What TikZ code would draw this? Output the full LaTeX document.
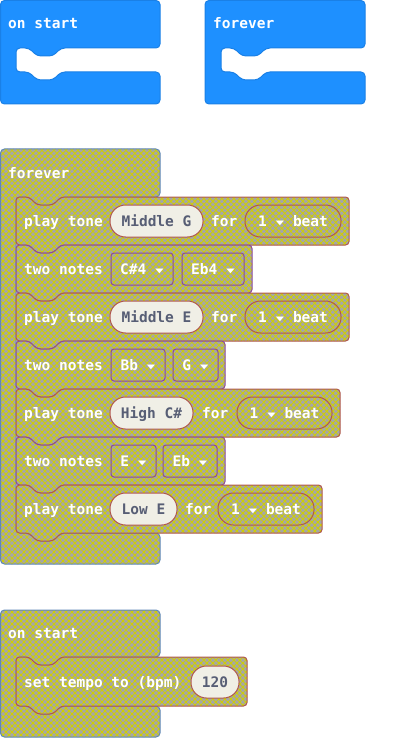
\documentclass[tikz,border=0pt]{standalone}
\usepackage{fontspec}
\usepackage{graphicx}
\newfontfamily\blockfont{DejaVu Sans Mono}
\usetikzlibrary{patterns.meta}

\definecolor{mbblue}{HTML}{1E90FF}
\definecolor{mbblueline}{HTML}{1A80E6}
\definecolor{hatchgray}{HTML}{A6A6A6}
\definecolor{hatchyellow}{HTML}{D0D000}
\definecolor{evline}{HTML}{5F88B8}
\definecolor{toneline}{HTML}{B0584E}
\definecolor{noteline}{HTML}{8B4A9C}
\definecolor{fieldfill}{HTML}{F0EFE6}
\definecolor{fieldtext}{HTML}{575E75}

% flattened dropdown arrow, one character wide
\newcommand{\ddtri}{\makebox[8.73pt]{\raisebox{1.2pt}{\scalebox{0.95}[0.55]{▼}}}}

\tikzset{
  hatched/.style={
    preaction={fill=hatchgray},
    preaction={pattern={Lines[angle=45,distance=4.24pt,line width=0.85pt]},pattern color=hatchyellow},
    preaction={pattern={Lines[angle=-45,distance=4.24pt,line width=0.85pt]},pattern color=hatchyellow}},
  blueblock/.style={fill=mbblue,draw=mbblueline,line width=1pt,rounded corners=4pt},
  eventblock/.style={hatched,draw=evline,line width=1pt,rounded corners=4pt},
  toneblock/.style={hatched,draw=toneline,line width=1pt,rounded corners=3.5pt},
  noteblock/.style={hatched,draw=noteline,line width=1pt,rounded corners=3.5pt},
  txt/.style={font={\blockfont\bfseries\fontsize{14.5pt}{17pt}\selectfont},
    inner sep=0pt,text height=10.5pt,text depth=0pt},
  lbl/.style={txt,text=white,anchor=west},
  pill/.style={txt,draw=toneline,fill=fieldfill,text=fieldtext,line width=1pt,
    rounded corners=15.5pt,minimum height=32pt},
  beatpill/.style={txt,draw=toneline,text=white,line width=1pt,
    rounded corners=15.5pt,minimum height=32pt},
  dropbox/.style={txt,draw=noteline,text=white,line width=1pt,
    rounded corners=3pt,minimum height=32pt},
}

% statement block: style, left, top, right, bottom
\newcommand{\stmtblock}[5]{%
  \draw[#1] (#2,#3) -- ({#2+13},#3) -- ({#2+21},{#3+8}) -- ({#2+37},{#3+8})
    -- ({#2+45},#3) -- (#4,#3) -- (#4,#5) -- ({#2+45},#5) -- ({#2+37},{#5+8})
    -- ({#2+21},{#5+8}) -- ({#2+13},#5) -- (#2,#5) -- cycle;}

% C-shaped event block: style, left, top, right, arm bottom, arm top, bottom, inner left
\newcommand{\evblock}[8]{%
  \draw[#1] (#2,#3) -- (#4,#3) -- (#4,#5) -- ({#8+45},#5) -- ({#8+37},{#5+8})
    -- ({#8+21},{#5+8}) -- ({#8+13},#5) -- (#8,#5) -- (#8,#6) -- ({#8+13},#6)
    -- ({#8+21},{#6+8}) -- ({#8+37},{#6+8}) -- ({#8+45},#6) -- (#4,#6)
    -- (#4,#7) -- (#2,#7) -- cycle;}

\begin{document}
\begin{tikzpicture}[x=1pt,y=-1pt]
\useasboundingbox (0,0) rectangle (401,738);

% the two empty blue event blocks
\evblock{blueblock}{0.5}{0.5}{160}{48}{72}{104}{16}
\evblock{blueblock}{205}{0.5}{365}{48}{72}{104}{221}
\node[lbl] (s1) at (8,23) {on start};
\node[lbl] (f1) at (213,23) {forever};

% forever loop with its tune
\evblock{eventblock}{0.5}{149}{160}{197}{533}{564}{16}
\node[lbl] (f2) at (8,173) {forever};

\stmtblock{toneblock}{16}{197}{349}{245}
\stmtblock{noteblock}{16}{245}{252}{293}
\stmtblock{toneblock}{16}{293}{349}{341}
\stmtblock{noteblock}{16}{341}{225}{389}
\stmtblock{toneblock}{16}{389}{340}{437}
\stmtblock{noteblock}{16}{437}{225}{485}
\stmtblock{toneblock}{16}{485}{322}{533}

% row 1
\node[lbl] (t1) at (24,221) {play tone};
\node[pill,minimum width=93pt] (p1) at (156.5,221) {Middle G};
\node[lbl] (r1) at (211,221) {for};
\node[beatpill,minimum width=96pt] (b1) at (293,221) {1 \ddtri{} beat};
% row 2
\node[lbl] (n2) at (24,269) {two notes};
\node[dropbox,minimum width=62pt] (d2a) at (142,269) {C\#4 \ddtri};
\node[dropbox,minimum width=62pt] (d2b) at (213,269) {Eb4 \ddtri};
% row 3
\node[lbl] (t3) at (24,317) {play tone};
\node[pill,minimum width=93pt] (p3) at (156.5,317) {Middle E};
\node[lbl] (r3) at (211,317) {for};
\node[beatpill,minimum width=96pt] (b3) at (293,317) {1 \ddtri{} beat};
% row 4
\node[lbl] (n4) at (24,365) {two notes};
\node[dropbox,minimum width=54pt] (d4a) at (138,365) {Bb \ddtri};
\node[dropbox,minimum width=45pt] (d4b) at (195.5,365) {G \ddtri};
% row 5
\node[lbl] (t5) at (24,413) {play tone};
\node[pill,minimum width=83pt] (p5) at (151.5,413) {High C\#};
\node[lbl] (r5) at (202,413) {for};
\node[beatpill,minimum width=95pt] (b5) at (284.5,413) {1 \ddtri{} beat};
% row 6
\node[lbl] (n6) at (24,461) {two notes};
\node[dropbox,minimum width=45pt] (d6a) at (133.5,461) {E \ddtri};
\node[dropbox,minimum width=54pt] (d6b) at (190,461) {Eb \ddtri};
% row 7
\node[lbl] (t7) at (24,509) {play tone};
\node[pill,minimum width=67pt] (p7) at (143.5,509) {Low E};
\node[lbl] (r7) at (185,509) {for};
\node[beatpill,minimum width=96pt] (b7) at (266,509) {1 \ddtri{} beat};

% on start with tempo
\evblock{eventblock}{0.5}{610}{160}{657}{706}{737}{16}
\node[lbl] (s2) at (8,633) {on start};
\stmtblock{toneblock}{16}{657}{247}{706}
\node[lbl] (tp) at (24,682) {set tempo to (bpm)};
\node[pill,minimum width=48pt] (bpm) at (215,682) {120};
\end{tikzpicture}
\end{document}
